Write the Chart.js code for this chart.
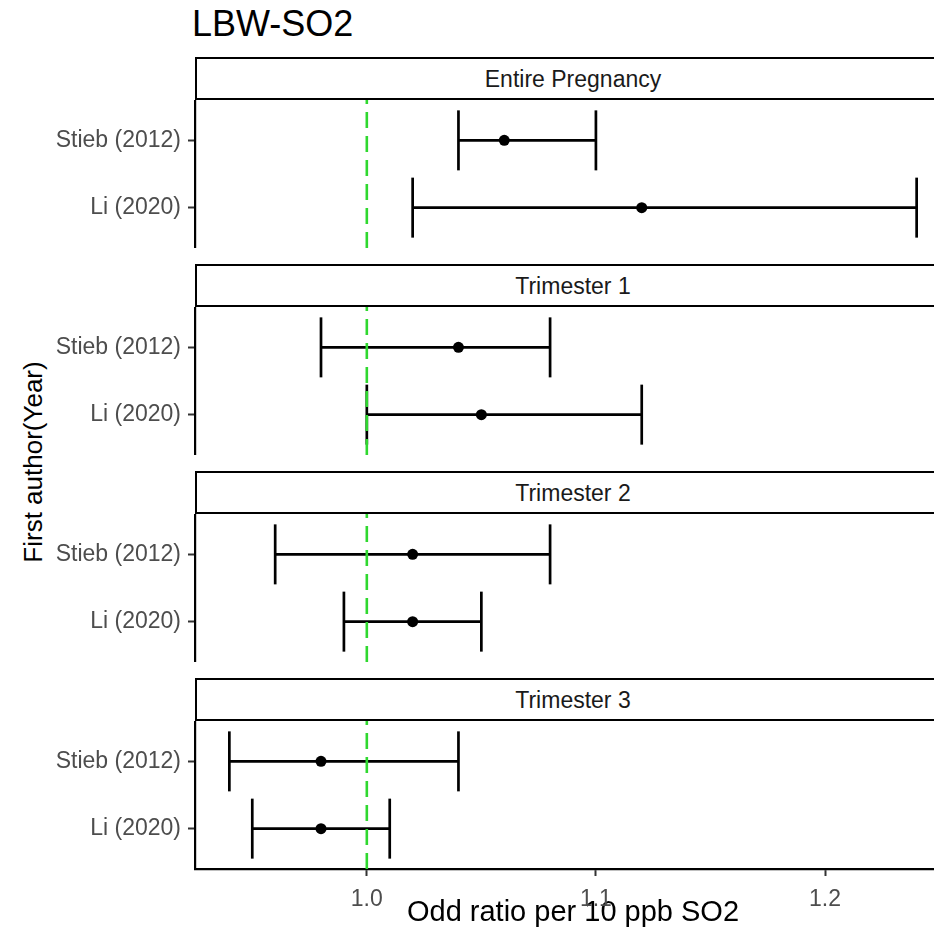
<!DOCTYPE html>
<html>
<head>
<meta charset="utf-8">
<script src="https://cdn.jsdelivr.net/npm/chart.js@4.4.1/dist/chart.umd.min.js"></script>
<style>
  html, body { margin: 0; padding: 0; background: #fff; overflow: hidden; }
  #page { position: relative; width: 934px; height: 942px; overflow: hidden;
          font-family: "Liberation Sans", Arial, sans-serif; }
  #title { position: absolute; left: 192px; top: 6px; font-size: 36px; line-height: 36px; color: #000; }
  #ytitle { position: absolute; width: 400px; left: -167px; top: 447px; font-size: 26px; line-height: 30px;
            text-align: center; color: #000; transform: rotate(-90deg); }
  .strip { position: absolute; box-sizing: border-box; border: 2px solid #000; background: #fff;
           color: #1a1a1a; font-size: 23px; line-height: 37px; padding-top: 2px; text-align: center; }
  canvas { position: absolute; left: 0; }
</style>
</head>
<body>
<div id="page">
  <div id="title">LBW-SO2</div>
  <div id="ytitle">First author(Year)</div>
</div>
<script>
// facets and studies
const PANELS = ['Entire Pregnancy', 'Trimester 1', 'Trimester 2', 'Trimester 3'];
const STUDIES = ['Stieb (2012)', 'Li (2020)'];

// odds ratios with 95% CI, one value per facet
const STIEB_OR = [1.06, 1.04, 1.02, 0.98];
const STIEB_LO = [1.04, 0.98, 0.96, 0.94];
const STIEB_HI = [1.10, 1.08, 1.08, 1.04];
const LI_OR = [1.12, 1.05, 1.02, 0.98];
const LI_LO = [1.02, 1.00, 0.99, 0.95];
const LI_HI = [1.24, 1.12, 1.05, 1.01];

const X_TICKS = [1.0, 1.1, 1.2];
const REF_LINE = 1.0;

// layout
const X_MIN = 0.925, X_MAX = 1.255;
const Y_MIN = 0.4, Y_MAX = 2.6;
const PLOT_LEFT = 195, PLOT_RIGHT = 951;
const STRIP_TOP = 57, STRIP_STEP = 207, STRIP_H = 43, PANEL_H = 148, AXIS_H = 73;

const FONT = '"Liberation Sans", Arial, sans-serif';
const GREEN = '#2fd82f';

const page = document.getElementById('page');

// Li (2020) sits at the bottom (1), Stieb (2012) above it (2)
const rowPos = name => STUDIES.length - STUDIES.indexOf(name);

function panelDatasets(i) {
  const rows = [
    { name: 'Stieb (2012)', or: STIEB_OR[i], lo: STIEB_LO[i], hi: STIEB_HI[i] },
    { name: 'Li (2020)', or: LI_OR[i], lo: LI_LO[i], hi: LI_HI[i] }
  ];
  const sets = [];
  rows.forEach(r => {
    const y = rowPos(r.name);
    sets.push({
      type: 'line',
      data: [{ x: r.lo, y: y }, { x: r.hi, y: y }],
      showLine: true,
      borderColor: '#000',
      borderWidth: 2.7,
      pointStyle: 'line',
      pointRadius: 30,
      pointRotation: 90,
      pointBorderWidth: 2.7,
      pointBorderColor: '#000',
      order: 2
    });
  });
  sets.push({
    type: 'scatter',
    data: rows.map(r => ({ x: r.or, y: rowPos(r.name) })),
    pointRadius: 5.5,
    pointBackgroundColor: '#000',
    pointBorderWidth: 0,
    order: 1
  });
  sets.push({
    type: 'line',
    data: [{ x: REF_LINE, y: Y_MIN }, { x: REF_LINE, y: Y_MAX }],
    showLine: true,
    borderColor: GREEN,
    borderWidth: 2.6,
    borderDash: [16, 8],
    pointRadius: 0,
    order: 0
  });
  return sets;
}

PANELS.forEach((name, i) => {
  const stripTop = STRIP_TOP + i * STRIP_STEP;
  const panelTop = stripTop + STRIP_H;
  const last = i === PANELS.length - 1;

  const strip = document.createElement('div');
  strip.className = 'strip';
  strip.style.left = PLOT_LEFT + 'px';
  strip.style.top = stripTop + 'px';
  strip.style.width = (PLOT_RIGHT - PLOT_LEFT) + 'px';
  strip.style.height = STRIP_H + 'px';
  strip.textContent = name;
  page.appendChild(strip);

  const canvas = document.createElement('canvas');
  canvas.width = PLOT_RIGHT;
  canvas.height = PANEL_H + (last ? AXIS_H : 0);
  canvas.style.top = panelTop + 'px';
  page.appendChild(canvas);

  new Chart(canvas.getContext('2d'), {
    type: 'scatter',
    data: { datasets: panelDatasets(i) },
    options: {
      responsive: false,
      animation: false,
      devicePixelRatio: 1,
      layout: { padding: 0, autoPadding: false },
      plugins: { legend: { display: false }, tooltip: { enabled: false } },
      scales: {
        x: {
          type: 'linear',
          min: X_MIN,
          max: X_MAX,
          display: last,
          afterBuildTicks: s => { s.ticks = X_TICKS.map(v => ({ value: v })); },
          afterFit: s => {
            s.height = last ? AXIS_H : 0;
            s.paddingLeft = 0;
            s.paddingRight = 0;
          },
          grid: { display: true, drawOnChartArea: false, drawTicks: true, tickLength: 7,
                  tickColor: '#333', tickWidth: 2 },
          border: { display: true, color: '#000', width: 2.2 },
          ticks: { color: '#4d4d4d', padding: 10, font: { family: FONT, size: 23 },
                   callback: v => v.toFixed(1) },
          title: { display: true, text: 'Odd ratio per 10 ppb SO2', color: '#000',
                   font: { family: FONT, size: 29 }, padding: { top: 0, bottom: 12 } }
        },
        y: {
          type: 'linear',
          min: Y_MIN,
          max: Y_MAX,
          afterBuildTicks: s => { s.ticks = STUDIES.map(n => ({ value: rowPos(n) })); },
          afterFit: s => { s.width = PLOT_LEFT; s.paddingTop = 0; s.paddingBottom = 0; },
          grid: { display: true, drawOnChartArea: false, drawTicks: true, tickLength: 7,
                  tickColor: '#333', tickWidth: 2 },
          border: { display: true, color: '#000', width: 2.2 },
          ticks: { color: '#4d4d4d', padding: 7, font: { family: FONT, size: 23 },
                   callback: v => STUDIES[STUDIES.length - v] }
        }
      }
    }
  });
});
</script>
</body>
</html>
